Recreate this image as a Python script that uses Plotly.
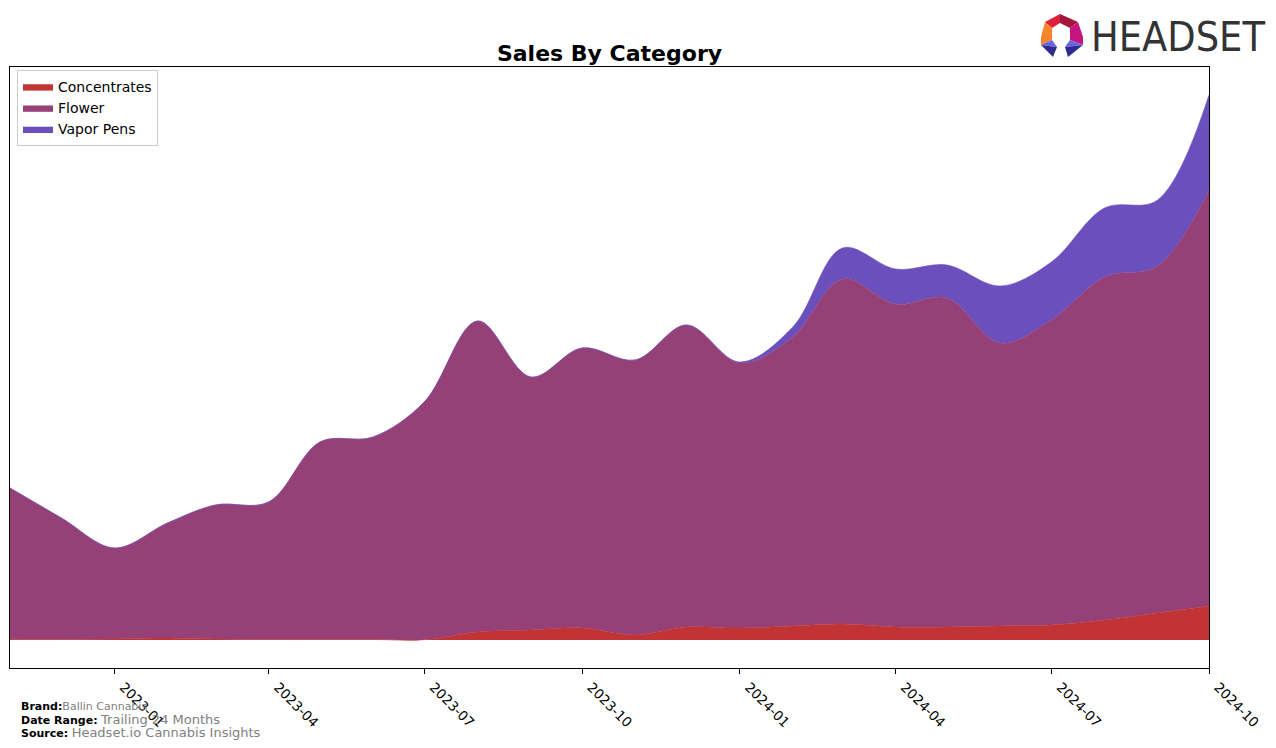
import plotly.graph_objects as go

months = ["2022-11-01", "2022-12-01", "2023-01-01", "2023-02-01", "2023-03-01", "2023-04-01",
          "2023-05-01", "2023-06-01", "2023-07-01", "2023-08-01", "2023-09-01", "2023-10-01",
          "2023-11-01", "2023-12-01", "2024-01-01", "2024-02-01", "2024-03-01", "2024-04-01",
          "2024-05-01", "2024-06-01", "2024-07-01", "2024-08-01", "2024-09-01", "2024-10-01"]
concentrates = [0.5, 0.5, 1, 2, 1, 0.5, 0.5, 0.5, 0.3, 8, 10, 12, 5, 13, 12, 14, 16, 13, 13, 14, 15, 20, 27, 34]
flower = [151.5, 121.5, 91, 115, 134, 137.5, 197.5, 202.5, 238, 311, 253, 280, 275, 302, 265, 289,
          345, 323, 329, 283, 305, 343, 347, 416]
vapor_pens = [0, 0, 0, 0, 0, 0, 0, 0, 0, 0, 0, 0, 0, 0, 1, 10, 31, 35, 33, 57, 58, 69, 66, 95]

tick_vals = ["2023-01-01", "2023-04-01", "2023-07-01", "2023-10-01", "2024-01-01", "2024-04-01",
             "2024-07-01", "2024-10-01"]
tick_text = ["2023-01", "2023-04", "2023-07", "2023-10", "2024-01", "2024-04", "2024-07", "2024-10"]

series = [("Concentrates", concentrates, "#c13335"),
          ("Flower", flower, "#964078"),
          ("Vapor Pens", vapor_pens, "#6a4fbd")]

# page body has an 8px margin: figure coords = screen coords - 8
OFF = 8
W, H = 1276 - 2 * OFF, 748 - 2 * OFF
L, R, T, B = 10 - OFF, 1209 - OFF, 67 - OFF, 668 - OFF


def px(x):
    return (x - OFF - L) / (R - L)


def py(y):
    return (B - (y - OFF)) / (B - T)


fig = go.Figure()
for name, vals, col in series:
    fig.add_trace(go.Scatter(
        x=months, y=vals, name=name, mode="lines", stackgroup="one",
        line=dict(shape="spline", smoothing=1.0, width=0.6, color=col),
        fillcolor=col,
    ))

# logo
logo_parts = [
    ([(1045, 22), (1060, 14), (1060, 23), (1052, 28)], "#e0203a"),
    ([(1060, 14), (1078, 22), (1070, 28), (1060, 23)], "#a3153f"),
    ([(1078, 22), (1083, 37), (1083, 45), (1070, 40), (1070, 28)], "#c4167e"),
    ([(1045, 22), (1052, 28), (1052, 40), (1041, 45), (1041, 37)], "#f5842a"),
    ([(1041, 45), (1052, 40), (1057, 47)], "#6b63e0"),
    ([(1041, 45), (1057, 47), (1053, 57)], "#2e2a8e"),
    ([(1083, 45), (1070, 40), (1065, 47)], "#6b63e0"),
    ([(1083, 45), (1065, 47), (1068, 57)], "#2e2a8e"),
]
shapes = []
for pts, col in logo_parts:
    path = "M " + " L ".join(f"{px(a):.5f},{py(b):.5f}" for a, b in pts) + " Z"
    shapes.append(dict(type="path", xref="paper", yref="paper", path=path,
                       fillcolor=col, line=dict(width=0)))

annotations = [
    dict(text="HEADSET", x=px(1089), y=py(37), xref="paper", yref="paper", xanchor="left",
         yanchor="middle", showarrow=False,
         font=dict(family="DejaVu Sans Condensed, Liberation Sans Narrow", size=41, color="#333333")),
    dict(text="<b>Brand:</b><span style='color:#808080'>Ballin Cannabis</span>", x=px(19), y=py(706),
         xref="paper", yref="paper", xanchor="left", yanchor="middle", showarrow=False,
         font=dict(family="DejaVu Sans", size=11, color="black")),
    dict(text="<b>Date Range:</b> <span style='color:#808080;font-size:13px'>Trailing 24 Months</span>",
         x=px(19), y=py(719), xref="paper", yref="paper", xanchor="left", yanchor="middle",
         showarrow=False, font=dict(family="DejaVu Sans", size=11, color="black")),
    dict(text="<b>Source:</b> <span style='color:#808080;font-size:13px'>Headset.io Cannabis Insights</span>",
         x=px(19), y=py(732), xref="paper", yref="paper", xanchor="left", yanchor="middle",
         showarrow=False, font=dict(family="DejaVu Sans", size=11, color="black")),
]

fig.update_layout(
    width=W, height=H,
    margin=dict(l=L, r=W - R, t=T, b=H - B),
    paper_bgcolor="white", plot_bgcolor="white",
    title=dict(text="<b>Sales By Category</b>", xref="paper", x=0.5, xanchor="center",
               y=1 - (53 - OFF) / H, yanchor="middle",
               font=dict(family="DejaVu Sans", size=22, color="black")),
    font=dict(family="DejaVu Sans", color="black"),
    showlegend=True,
    legend=dict(x=px(17), y=py(70), xanchor="left", yanchor="top", bgcolor="white",
                bordercolor="#cccccc", borderwidth=1, font=dict(size=14, family="DejaVu Sans"),
                traceorder="normal", itemwidth=30, tracegroupgap=0),
    xaxis=dict(range=["2022-11-01", "2024-10-01"], tickvals=tick_vals, ticktext=tick_text,
               tickangle=45, showgrid=False, zeroline=False, showline=True, mirror=True,
               linecolor="black", linewidth=1, ticks="outside", ticklen=5, tickcolor="black",
               ticklabelshift=9,
               tickfont=dict(size=13.5, family="DejaVu Sans", color="black")),
    yaxis=dict(range=[-28, 573], showticklabels=False, showgrid=False, zeroline=False,
               showline=True, mirror=True, linecolor="black", linewidth=1, ticks=""),
    shapes=shapes,
    annotations=annotations,
)

fig.write_html("out.html")
